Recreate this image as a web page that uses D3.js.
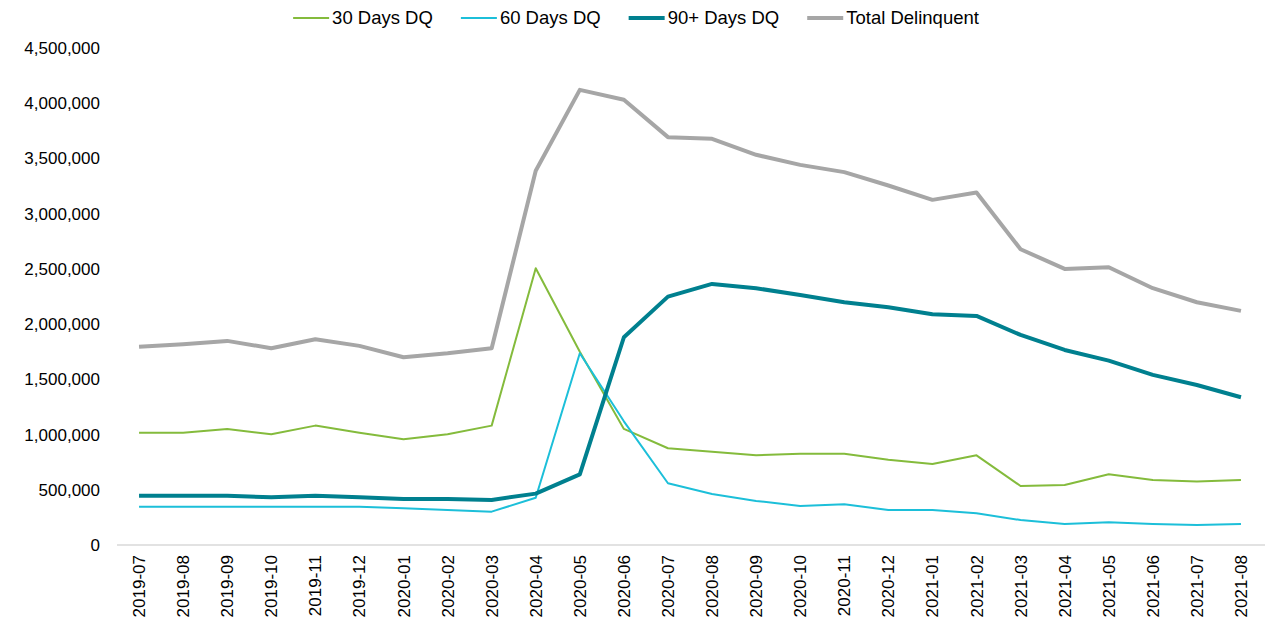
<!DOCTYPE html>
<html>
<head>
<meta charset="utf-8">
<script src="https://cdn.jsdelivr.net/npm/d3@7"></script>
<style>
  html, body { margin: 0; padding: 0; background: #fff; }
  svg { display: block; font-family: "Liberation Sans", Arial, sans-serif; }
</style>
</head>
<body>
<svg id="chart" width="1272" height="628"></svg>
<script>
// ── data ──
const months = ['2019-07','2019-08','2019-09','2019-10','2019-11','2019-12',
  '2020-01','2020-02','2020-03','2020-04','2020-05','2020-06','2020-07','2020-08',
  '2020-09','2020-10','2020-11','2020-12','2021-01','2021-02','2021-03','2021-04',
  '2021-05','2021-06','2021-07','2021-08'];

const dq30  = [1017000,1017000,1051000,1003000,1081000,1017000,957000,1003000,1081000,
  2506000,1750000,1051000,876000,845000,812000,827000,827000,772000,734000,812000,
  534000,543000,640000,589000,574000,589000];
const dq60  = [347000,347000,347000,347000,347000,347000,332000,317000,302000,
  428000,1736000,1120000,559000,462000,399000,353000,368000,317000,317000,287000,
  226000,190000,205000,190000,181000,190000];
const dq90  = [447000,447000,447000,432000,447000,432000,417000,417000,408000,
  465000,640000,1881000,2249000,2364000,2325000,2264000,2198000,2153000,2090000,2074000,
  1902000,1766000,1669000,1540000,1449000,1338000];
const total = [1796000,1818000,1848000,1782000,1863000,1803000,1700000,1736000,1782000,
  3388000,4121000,4031000,3693000,3678000,3533000,3442000,3376000,3255000,3125000,3191000,
  2678000,2500000,2515000,2325000,2198000,2120000];

const yTicks = [0,500000,1000000,1500000,2000000,2500000,3000000,3500000,4000000,4500000];

const series = [
  { name: '30 Days DQ',       values: dq30,  color: '#84bb3c', width: 2 },
  { name: '60 Days DQ',       values: dq60,  color: '#1cbfd9', width: 2 },
  { name: '90+ Days DQ',      values: dq90,  color: '#00808f', width: 4 },
  { name: 'Total Delinquent', values: total, color: '#a6a6a6', width: 4 }
];

// ── layout ──
const svg = d3.select('#chart');
const FS = 17;

const x = d3.scaleBand().domain(months).range([117, 1263]);
const y = d3.scaleLinear().domain([0, 4500000]).range([545, 48]);
const cx = m => x(m) + x.bandwidth() / 2;

// y labels
const fmt = d3.format(',');
svg.append('g').selectAll('text')
  .data(yTicks).join('text')
  .attr('x', 100).attr('y', d => y(d))
  .attr('dy', '0.35em')
  .attr('text-anchor', 'end')
  .attr('font-size', FS).attr('fill', '#000')
  .text(d => fmt(d));

// x axis line
svg.append('line')
  .attr('x1', 117).attr('x2', 1265)
  .attr('y1', y(0)).attr('y2', y(0))
  .attr('stroke', '#d9d9d9').attr('stroke-width', 1.5);

// x labels (rotated)
svg.append('g').selectAll('text')
  .data(months).join('text')
  .attr('transform', d => `translate(${cx(d) + 6},${y(0) + 10}) rotate(-90)`)
  .attr('text-anchor', 'end')
  .attr('font-size', FS).attr('fill', '#000')
  .text(d => d);

// lines
const line = d3.line().x((d, i) => cx(months[i])).y(d => y(d));
svg.append('g').selectAll('path')
  .data(series).join('path')
  .attr('d', s => line(s.values))
  .attr('fill', 'none')
  .attr('stroke', s => s.color)
  .attr('stroke-width', s => s.width)
  .attr('stroke-linejoin', 'round');

// ── legend ──
const leg = svg.append('g');
let lx = 0;
series.forEach(s => {
  const g = leg.append('g').attr('transform', `translate(${lx},0)`);
  g.append('line').attr('x1', 0).attr('x2', 36).attr('y1', 0).attr('y2', 0)
    .attr('stroke', s.color).attr('stroke-width', s.width);
  const t = g.append('text').attr('x', 39).attr('y', 0).attr('dy', '0.35em')
    .attr('font-size', 18.5).attr('fill', '#000').text(s.name);
  lx += 39 + t.node().getComputedTextLength() + 28;
});
lx -= 28;
leg.attr('transform', `translate(${(1272 - lx) / 2},18)`);
</script>
</body>
</html>
